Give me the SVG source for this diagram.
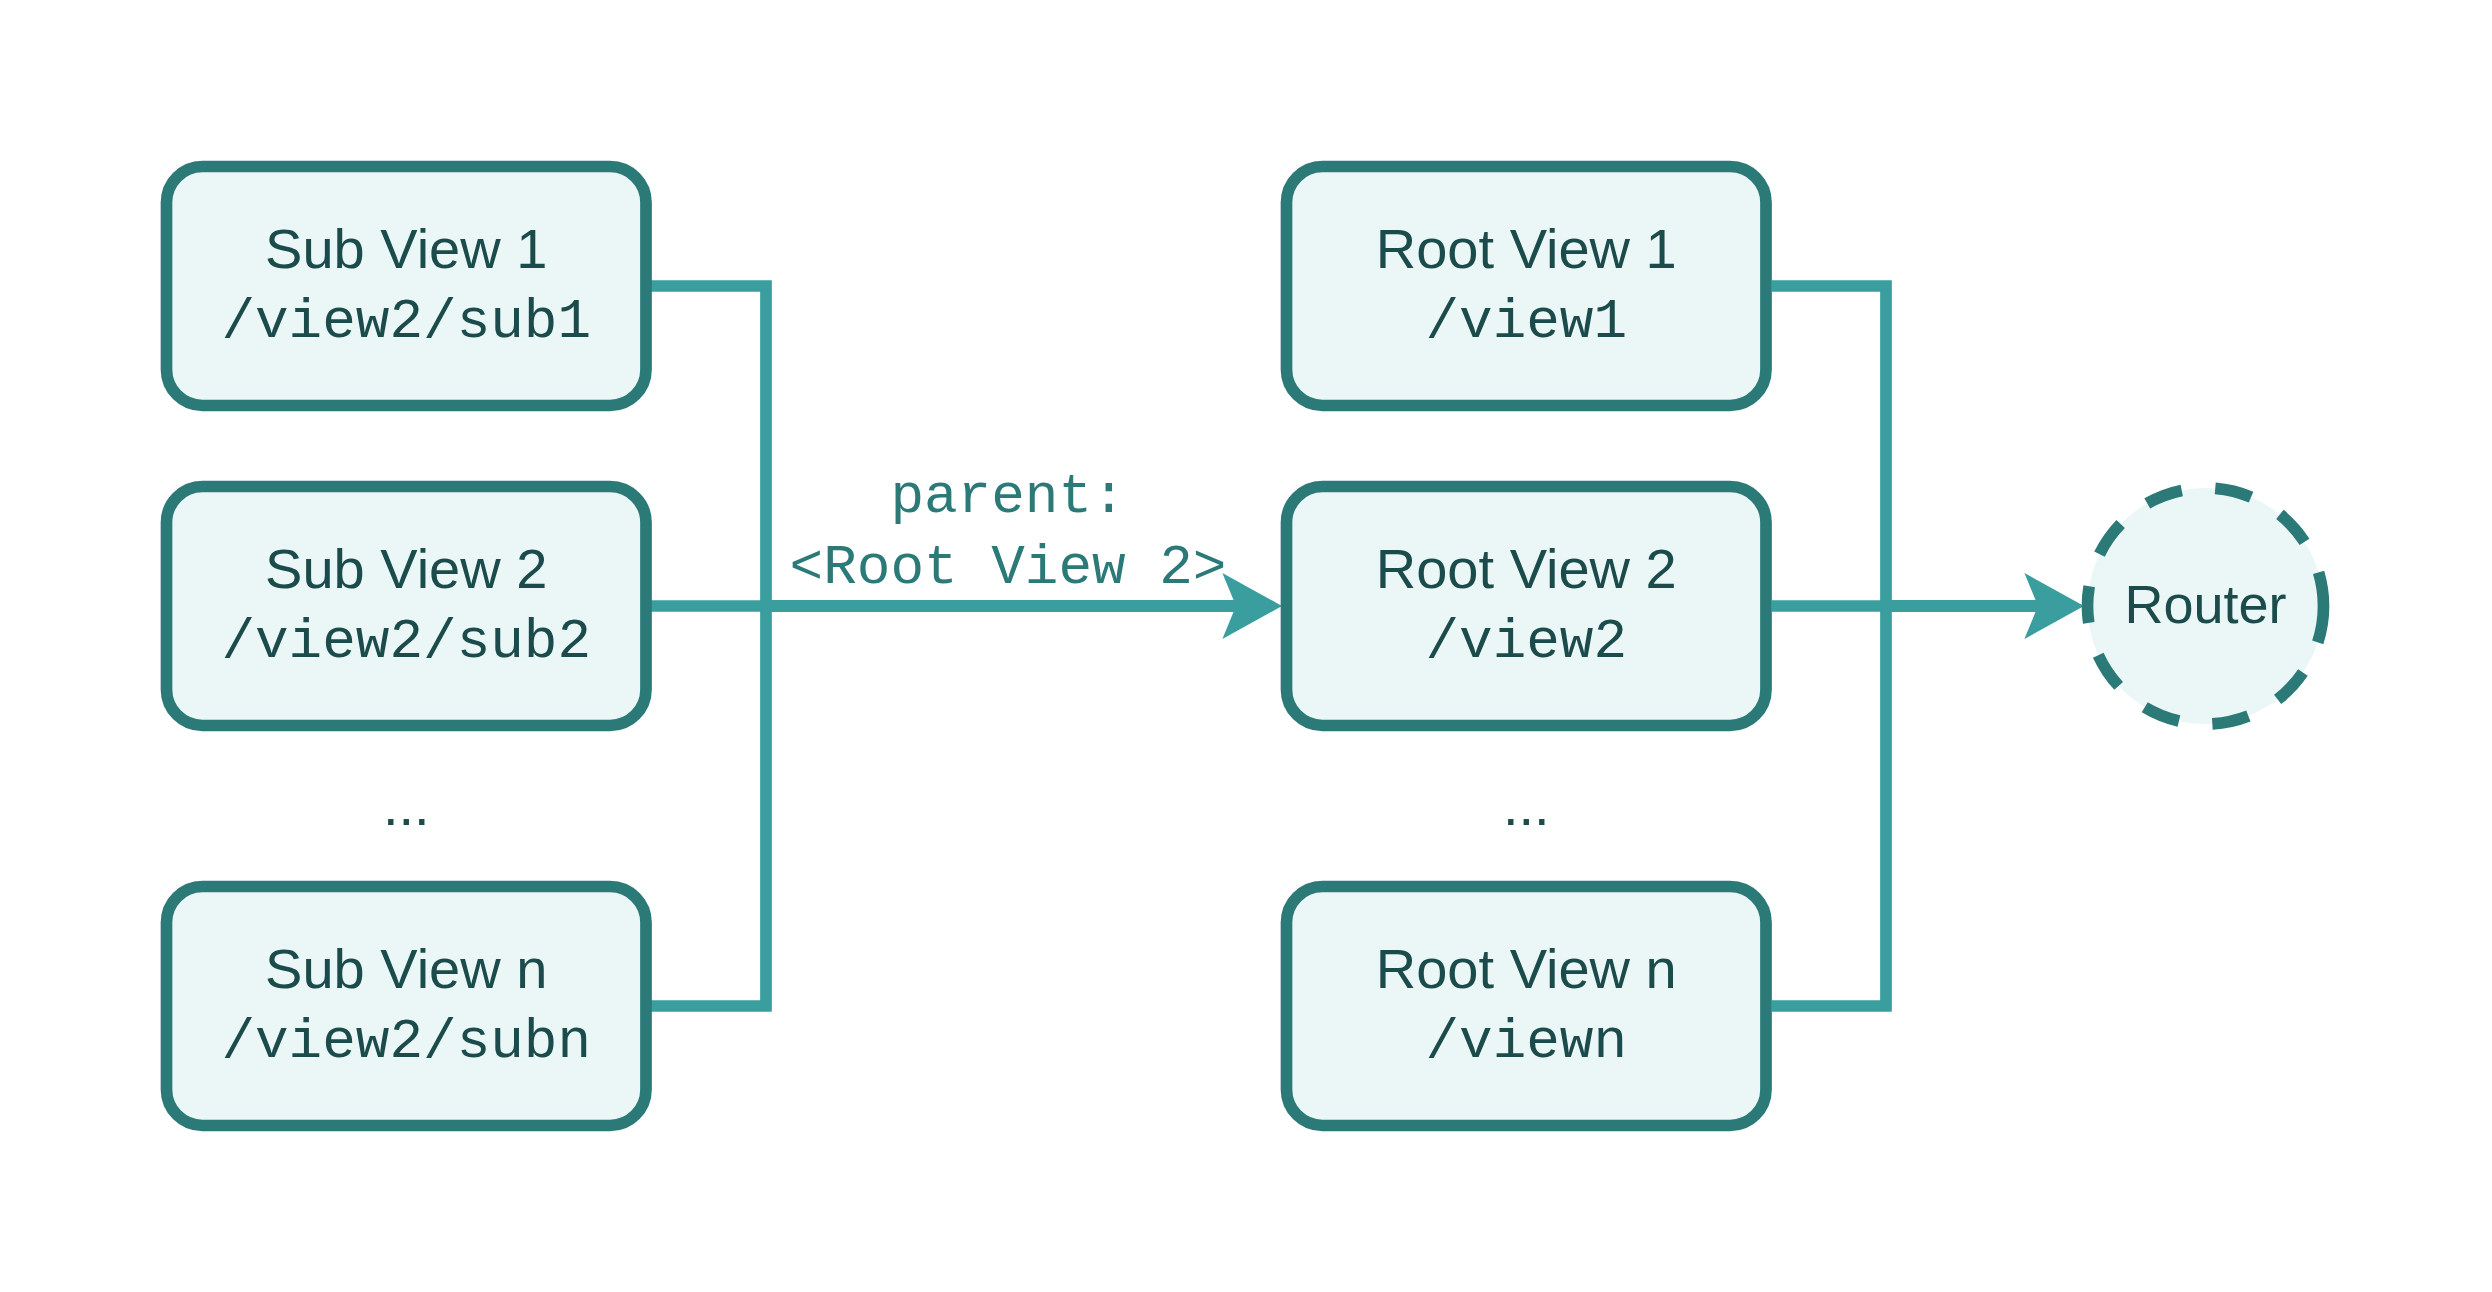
<svg xmlns="http://www.w3.org/2000/svg" width="2492" height="1292" viewBox="0 0 2492 1292">
  <style>
    .box { fill: #EBF7F7; stroke: #2B7A78; stroke-width: 11.7; }
    .edge { fill: none; stroke: #3A9E9E; stroke-width: 11.7; stroke-linejoin: miter; stroke-linecap: butt; }
    .title { font-family: "Liberation Sans", Arial, Helvetica, sans-serif; font-size: 56px; fill: #1B4B4B; text-anchor: middle; }
    .path { font-family: "Liberation Mono", "Courier New", monospace; font-size: 56px; fill: #1B4B4B; text-anchor: middle; }
    .label { font-family: "Liberation Mono", "Courier New", monospace; font-size: 56px; fill: #2B7A78; text-anchor: middle; }
    .router { fill: #EBF7F7; stroke: #2B7A78; stroke-width: 11.7; stroke-dasharray: 37 33.7; }
  </style>
  <defs>
    <marker id="arrow" markerUnits="userSpaceOnUse" markerWidth="60" markerHeight="66" viewBox="0 0 57 63" refX="13" refY="31.5" orient="auto">
      <path d="M0,0 L57,31.5 L0,63 L13,31.5 Z" fill="#3A9E9E"/>
    </marker>
  </defs>
  <rect width="2492" height="1292" fill="#FFFFFF"/>

  <g id="connectors">
    <path class="edge" d="M651 286 H766 V606 H1236"/>
    <path class="edge" d="M651 1006 H766 V606 H1236"/>
    <path class="edge" d="M651 606 H1236" marker-end="url(#arrow)"/>
    <path class="edge" d="M1772 286 H1886 V606 H2038"/>
    <path class="edge" d="M1772 1006 H1886 V606 H2038"/>
    <path class="edge" d="M1772 606 H2038" marker-end="url(#arrow)"/>
    <g id="edge-label">
      <text class="label" x="1008" y="512">parent:</text>
      <text class="label" x="1008" y="583">&lt;Root View 2&gt;</text>
    </g>
  </g>

  <g id="sub-view-1">
    <rect class="box" x="166.5" y="166.5" width="479.5" height="239" rx="36" ry="36"/>
    <text class="title" x="406.25" y="268.3">Sub View 1</text>
    <text class="path" x="406.25" y="336.8">/view2/sub1</text>
  </g>
  <g id="sub-view-2">
    <rect class="box" x="166.5" y="486.5" width="479.5" height="239" rx="36" ry="36"/>
    <text class="title" x="406.25" y="588.3">Sub View 2</text>
    <text class="path" x="406.25" y="656.8">/view2/sub2</text>
  </g>
  <g id="sub-ellipsis">
    <text class="title" x="406.25" y="825">...</text>
  </g>
  <g id="sub-view-n">
    <rect class="box" x="166.5" y="886.5" width="479.5" height="239" rx="36" ry="36"/>
    <text class="title" x="406.25" y="988.3">Sub View n</text>
    <text class="path" x="406.25" y="1056.8">/view2/subn</text>
  </g>

  <g id="root-view-1">
    <rect class="box" x="1286.5" y="166.5" width="479.5" height="239" rx="36" ry="36"/>
    <text class="title" x="1526.25" y="268.3">Root View 1</text>
    <text class="path" x="1526.25" y="336.8">/view1</text>
  </g>
  <g id="root-view-2">
    <rect class="box" x="1286.5" y="486.5" width="479.5" height="239" rx="36" ry="36"/>
    <text class="title" x="1526.25" y="588.3">Root View 2</text>
    <text class="path" x="1526.25" y="656.8">/view2</text>
  </g>
  <g id="root-ellipsis">
    <text class="title" x="1526.25" y="825">...</text>
  </g>
  <g id="root-view-n">
    <rect class="box" x="1286.5" y="886.5" width="479.5" height="239" rx="36" ry="36"/>
    <text class="title" x="1526.25" y="988.3">Root View n</text>
    <text class="path" x="1526.25" y="1056.8">/viewn</text>
  </g>

  <g id="router">
    <path class="router" d="M2323.5 606 A118 118 0 0 1 2087.5 606 A118 118 0 0 1 2323.5 606 Z"/>
    <text class="title" x="2205.5" y="623" font-size="54" style="font-size:54px">Router</text>
  </g>
</svg>
